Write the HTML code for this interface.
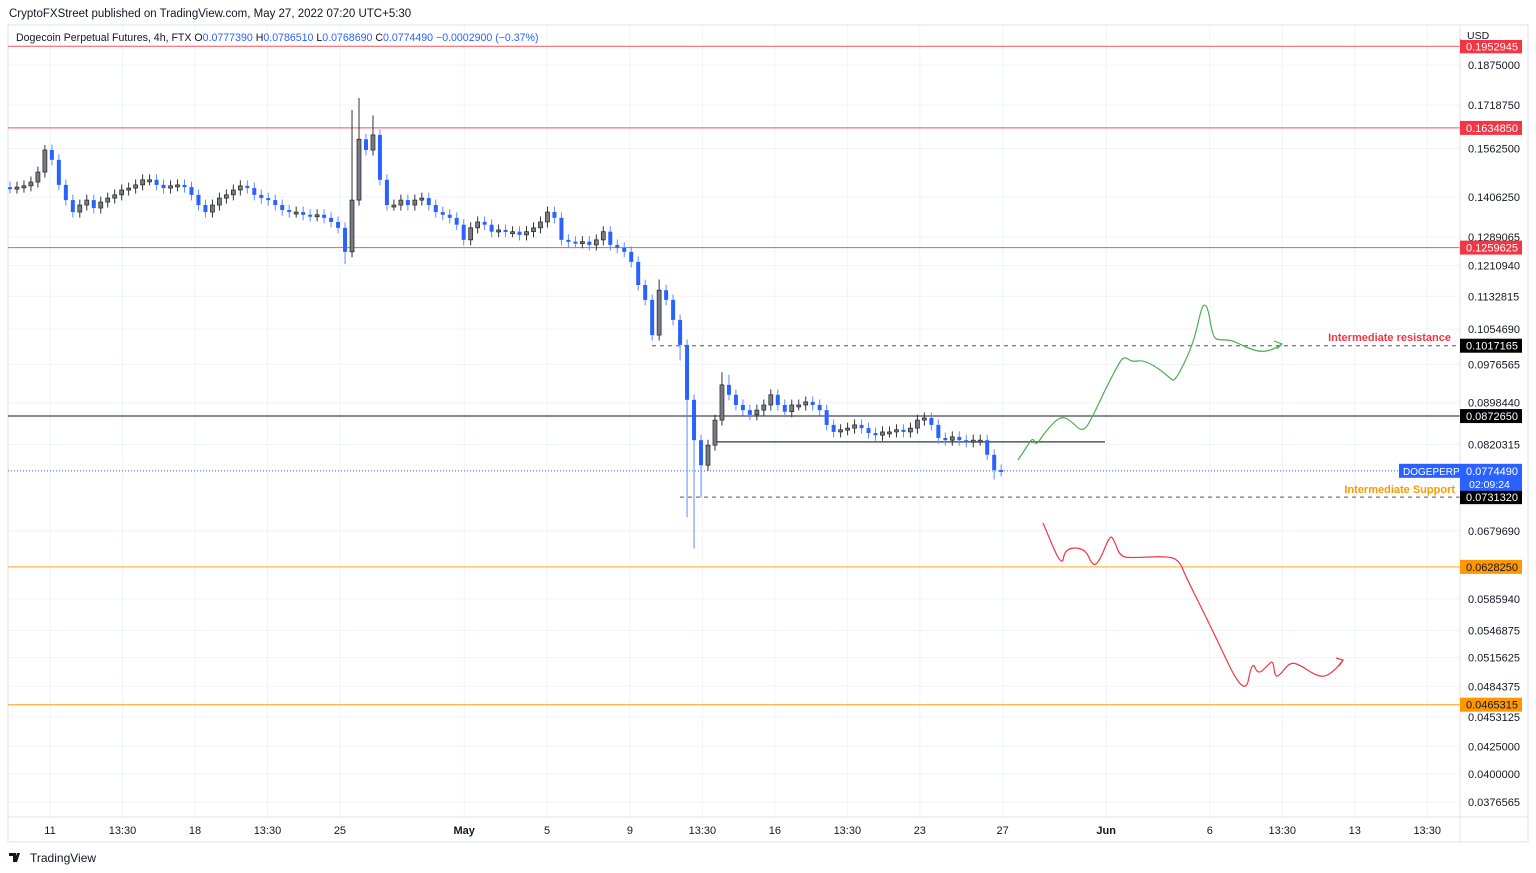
<!DOCTYPE html>
<html><head><meta charset="utf-8"><style>
body{margin:0;background:#fff;width:1536px;height:873px;overflow:hidden;font-family:"Liberation Sans",sans-serif}
svg{position:absolute;left:0;top:0}
text{font-family:"Liberation Sans",sans-serif}
</style></head><body>
<svg id="c" width="1536" height="873">
<text x="9" y="17" font-size="11.5" fill="#131722">CryptoFXStreet published on TradingView.com, May 27, 2022 07:20 UTC+5:30</text>
<rect x="8" y="25" width="1520" height="817" fill="none" stroke="#e0e3eb"/>
<g id="grid"></g><g id="levels"></g><g id="candles"></g><g id="draw"></g><g id="axes"></g>
<text x="16" y="41" font-size="10.6" fill="#131722">Dogecoin Perpetual Futures, 4h, FTX <tspan fill="#131722">O</tspan><tspan fill="#2962ff">0.0777390</tspan> <tspan>H</tspan><tspan fill="#2962ff">0.0786510</tspan> <tspan>L</tspan><tspan fill="#2962ff">0.0768690</tspan> <tspan>C</tspan><tspan fill="#2962ff">0.0774490 −0.0002900 (−0.37%)</tspan></text>
<text x="1451" y="341" font-size="11" fill="#f23645" text-anchor="end" font-weight="bold">Intermediate resistance</text>
<text x="1455" y="493" font-size="11" fill="#ff9800" text-anchor="end" font-weight="bold">Intermediate Support</text>
<g><path d="M9 853h7v9h-3v-6h-4z M17 853l3 0-3 9h-3z" fill="#131722"/><text x="30" y="862" font-size="12" fill="#131722">TradingView</text></g>
</svg>
<script>
const closes=[.1434,.1437,.1441,.1453,.1485,.1558,.1525,.1444,.1397,.1361,.1382,.1397,.1373,.1391,.1403,.1413,.1428,.1434,.1444,.1460,.1460,.1444,.1434,.1441,.1444,.1437,.1413,.1382,.1361,.1382,.1403,.1413,.1428,.1441,.1434,.1413,.1403,.1397,.1382,.1367,.1361,.1361,.1353,.1350,.1353,.1344,.1332,.1315,.1248,.1397,.1595,.1558,.1610,.1460,.1382,.1382,.1397,.1382,.1397,.1403,.1382,.1361,.1353,.1344,.1324,.1281,.1315,.1332,.1324,.1304,.1309,.1304,.1304,.1295,.1304,.1315,.1332,.1361,.1344,.1281,.1276,.1273,.1276,.1267,.1281,.1304,.1267,.1259,.1248,.1221,.1161,.1124,.1041,.1148,.1124,.1076,.1019,.0904,.0828,.0784,.0819,.0865,.0934,.0914,.0894,.0884,.0875,.0884,.0894,.0914,.0894,.0881,.0894,.0894,.0900,.0894,.0884,.0856,.0843,.0847,.0850,.0856,.0850,.0841,.0837,.0843,.0843,.0847,.0843,.0850,.0865,.0869,.0856,.0832,.0828,.0834,.0828,.0825,.0828,.0828,.0802,.0776,.07745];
const wickHighIdx=[5,49,50,52,93,102,103];
const wickHighVal=[.1575,.1700,.1745,.1680,.1175,.0960,.0955];
const wickLowIdx=[48,96,97,98,99,141];
const wickLowVal=[.1215,.0985,.0700,.0654,.0731,.0760];
const yTicks=[0.1875,0.171875,0.15625,0.140625,0.1289065,0.121094,0.1132815,0.105469,0.0976565,0.089844,0.0820315,0.067969,0.058594,0.0546875,0.0515625,0.0484375,0.0453125,0.0425,0.04,0.0376565];
const xTickDays=[0,3.5,7,10.5,14,20,24,28,31.5,35,38.5,42,46,51,56,59.5,63,66.5];
const xTickLabels=["11","13:30","18","13:30","25","May","5","9","13:30","16","13:30","23","27","Jun","6","13:30","13","13:30"];
const levelPrices=[0.1952945,0.163485,0.1259625,0.1017165,0.087265,0.0731320,0.062825,0.0465315];
const levelLabels=["0.1952945","0.1634850","0.1259625","0.1017165","0.0872650","0.0731320","0.0628250","0.0465315"];
const levelKinds=["red","red","red","dash","black","dash","orange","orange"];
const lastPrice=0.077449, rangeLow=0.0825;
// hand-drawn scenario annotations (drawing tool strokes)
const greenDrawing=[[1018,460],[1026,448],[1033,437],[1036,446],[1045,432],[1060,416],[1070,420],[1083,433],[1093,416],[1105,390],[1118,365],[1124,356],[1132,362],[1143,360],[1158,368],[1170,378],[1175,382],[1193,345],[1201,310],[1204,304],[1208,308],[1213,338],[1220,340],[1232,340],[1245,347],[1260,352],[1272,350],[1282,344]];
const redDrawing=[[1043,523],[1062,568],[1065,548],[1085,548],[1093,567],[1100,560],[1110,535],[1114,540],[1120,556],[1130,558],[1170,556],[1180,562],[1185,575],[1210,625],[1245,699],[1252,660],[1258,675],[1268,665],[1273,660],[1275,677],[1280,675],[1290,662],[1300,665],[1315,675],[1325,677],[1335,670],[1343,660]];

const NS="http://www.w3.org/2000/svg";
const yS=p=>65+Math.log(0.1875/p)*459;
const xDay=d=>50+d*20.71;
const xIdx=i=>10+i*6.98;
function mk(tag,attrs,parent){const e=document.createElementNS(NS,tag);for(const k in attrs)e.setAttribute(k,attrs[k]);parent.appendChild(e);return e;}
const G=id=>document.getElementById(id);
const grid=G('grid'),lv=G('levels'),cd=G('candles'),dr=G('draw'),ax=G('axes');
yTicks.forEach(p=>{const l=mk('line',{x1:8,x2:1460,y1:yS(p),y2:yS(p),stroke:'#f0f3fa'},grid);});
xTickDays.forEach(d=>{const l=mk('line',{x1:xDay(d),x2:xDay(d),y1:25,y2:817,stroke:'#f0f3fa'},grid);});
let a=mk('line',{x1:1460,x2:1460,y1:25,y2:842,stroke:'#e0e3eb'},ax);
a=mk('line',{x1:8,x2:1528,y1:817,y2:817,stroke:'#e0e3eb'},ax);
yTicks.forEach(p=>{const t=mk('text',{x:1468,y:yS(p)+4,'font-size':11,fill:'#131722'},ax);t.textContent=p.toFixed(7);});
xTickDays.forEach((d,i)=>{const t=mk('text',{x:xDay(d),y:834,'font-size':11,fill:'#131722','text-anchor':'middle','font-weight':(xTickLabels[i]=='May'||xTickLabels[i]=='Jun')?'bold':'normal'},ax);t.textContent=xTickLabels[i];});
const kc={red:'#f7525f',black:'#131722',dash:'#555',orange:'#ffb74d'};
const kb={red:'#f23645',black:'#000',dash:'#000',orange:'#ff9800'};
levelPrices.forEach((p,i)=>{const k=levelKinds[i],y=yS(p);
 const x1=k=='dash'?(i==3?652:680):8;
 const l=mk('line',{x1:x1,x2:1460,y1:y,y2:y,stroke:kc[k],'stroke-width':k=='orange'?1.3:1,'stroke-dasharray':k=='dash'?'4 4':''},lv);
 
 const r=mk('rect',{x:1460,y:y-7,width:62,height:14,fill:kb[k]},ax);
 const t=mk('text',{x:1466,y:y+4,'font-size':11,fill:k=='orange'?'#131722':'#fff'},ax);t.textContent=levelLabels[i];
});
a=mk('rect',{x:1461,y:26,width:66,height:14,fill:'#fff'},ax);
a=mk('text',{x:1467,y:39,'font-size':10.5,fill:'#131722'},ax);a.textContent='USD';
let rl=mk('line',{x1:715,x2:1105,y1:yS(rangeLow),y2:yS(rangeLow),stroke:'#555','stroke-width':1.5},lv);
const ly=yS(lastPrice);
let ll=mk('line',{x1:8,x2:1460,y1:ly,y2:ly,stroke:'#2962ff','stroke-dasharray':'1 2'},lv);
let b=mk('rect',{x:1399,y:ly-7,width:61,height:14,fill:'#2962ff'},ax);
b=mk('text',{x:1403,y:ly+4,'font-size':10,fill:'#fff'},ax);b.textContent='DOGEPERP';
b=mk('rect',{x:1460,y:ly-7,width:62,height:27,fill:'#2962ff'},ax);
b=mk('text',{x:1466,y:ly+4,'font-size':11,fill:'#fff'},ax);b.textContent=lastPrice.toFixed(7);
b=mk('text',{x:1469,y:ly+17,'font-size':10.5,fill:'#fff'},ax);b.textContent='02:09:24';
closes.forEach((c,i)=>{const o=i?closes[i-1]:c*1.002;
 let h=Math.max(o,c)*1.012,l=Math.min(o,c)*0.988;
 const hi=wickHighIdx.indexOf(i);if(hi>=0)h=wickHighVal[hi];
 const li=wickLowIdx.indexOf(i);if(li>=0)l=wickLowVal[li];
 const up=c>=o,x=xIdx(i);
 const col=up?'#333':'#5b8cff';
 const w=mk('line',{x1:x,x2:x,y1:yS(h),y2:yS(l),stroke:col,'stroke-width':1},cd);
 
 const yt=yS(Math.max(o,c)),yb=yS(Math.min(o,c));
 const r=mk('rect',{x:x-2,y:yt,width:4,height:Math.max(2,yb-yt),fill:up?'#787b86':'#2962ff',stroke:up?'#222':'none','stroke-width':0.7},cd);
 
});
function pathOf(pts){let d='M'+pts[0].join(' ');for(let i=1;i<pts.length;i++){const m=[(pts[i-1][0]+pts[i][0])/2,(pts[i-1][1]+pts[i][1])/2];d+=' Q'+pts[i-1].join(' ')+' '+m.join(' ');}d+=' L'+pts[pts.length-1].join(' ');return d;}
let gp=mk('path',{d:pathOf(greenDrawing),fill:'none',stroke:'#4caf50','stroke-width':1.2},dr);
let ga=greenDrawing[greenDrawing.length-1];
let gh=mk('path',{d:`M${ga[0]-8} ${ga[1]-3} L${ga[0]} ${ga[1]} L${ga[0]-5} ${ga[1]+5}`,fill:'none',stroke:'#4caf50','stroke-width':1.2},dr);
let rp=mk('path',{d:pathOf(redDrawing),fill:'none',stroke:'#f23645','stroke-width':1.2},dr);
let ra=redDrawing[redDrawing.length-1];
let rh=mk('path',{d:`M${ra[0]-7} ${ra[1]-2} L${ra[0]} ${ra[1]} L${ra[0]-4} ${ra[1]+6}`,fill:'none',stroke:'#f23645','stroke-width':1.2},dr);
</script>
</body></html>
